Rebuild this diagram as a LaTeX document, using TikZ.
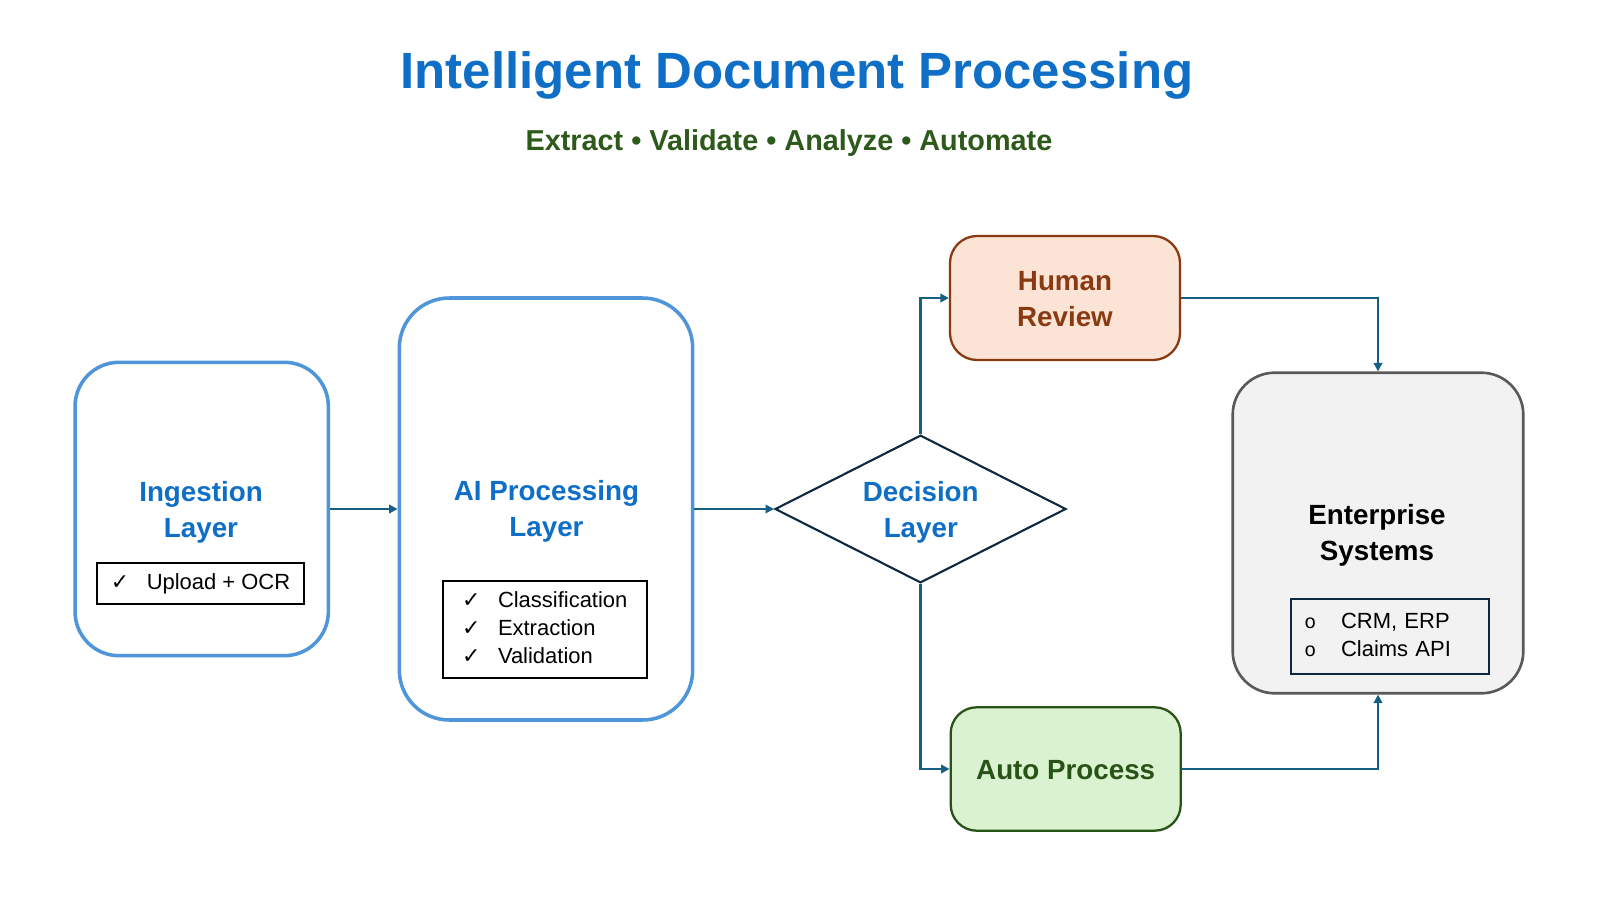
\documentclass[tikz,border=0pt]{standalone}
\usepackage{fontspec}
\setmainfont{Liberation Sans}
\newfontfamily\symfont{DejaVu Sans}
\newfontfamily\bulfont{Liberation Mono}
\usetikzlibrary{arrows.meta,shapes.geometric}
\definecolor{boxblue}{HTML}{4E95D9}
\definecolor{txtblue}{HTML}{0F6FC6}
\definecolor{subgreen}{HTML}{2D5A1B}
\definecolor{conncolor}{HTML}{156082}
\definecolor{navy}{HTML}{0E2841}
\definecolor{hrfill}{HTML}{FBE3D6}
\definecolor{hrline}{HTML}{8A3A12}
\definecolor{apfill}{HTML}{DAF2D0}
\definecolor{apline}{HTML}{275317}
\definecolor{entfill}{HTML}{F2F2F2}
\definecolor{entline}{HTML}{595959}
\newcommand\chkitem{\makebox[3.6mm][l]{\symfont ✓}}
\newcommand\ringitem{\makebox[3.67mm][l]{\bulfont\fontsize{5.6}{8}\selectfont o}}
\begin{document}
\begin{tikzpicture}[x=0.1mm,y=-0.1mm,
  layerbox/.style={draw=boxblue, line width=1pt, fill=white, rounded corners=4.4mm, inner sep=0pt},
  lbl/.style={font=\fontsize{7.9}{10.24}\selectfont\bfseries, align=center, inner sep=0pt},
  listbox/.style={draw=black, line width=0.6pt, inner sep=0pt, font=\fontsize{6.25}{8}\selectfont},
  conn/.style={draw=conncolor, line width=0.65pt, -{Triangle[length=2.4pt,width=2.4pt]}},
  rbox/.style={inner sep=0pt, rounded corners=2.7mm, line width=0.65pt, minimum width=23mm, minimum height=12.4mm}
]
\useasboundingbox (0,0) rectangle (1600,900);

% titles
\node[font=\fontsize{14.5}{17}\selectfont\bfseries, text=txtblue, anchor=base, inner sep=0pt] (title) at (797,89) {Intelligent Document Processing};
\node[font=\fontsize{8.2}{10}\selectfont\bfseries, text=subgreen, anchor=base, inner sep=0pt] (sub) at (789,151) {Extract • Validate • Analyze • Automate};

% ingestion
\node[layerbox, minimum width=25.33mm, minimum height=29.34mm] (ing) at (201.7,509) {};
\node[lbl, text=txtblue] (ingt) at (201,512.5) {\strut Ingestion\\\strut Layer};
\node[listbox, minimum width=20.7mm, minimum height=4.1mm] (ingl) at (200.5,583.5) {\strut\chkitem Upload + OCR};

% AI processing
\node[layerbox, rounded corners=5mm, minimum width=29.34mm, minimum height=42.2mm] (ai) at (546,509) {};
\node[lbl, text=txtblue] (ait) at (546.5,511.5) {\strut AI Processing\\\strut Layer};
\node[listbox, minimum width=20.4mm, minimum height=9.73mm, align=left] (ail) at (544.7,629.7) {\strut\chkitem Classification\\\strut\chkitem Extraction\\\strut\chkitem Validation};

% decision
\node[shape=diamond, aspect=2, draw=navy, line width=0.6pt, fill=white, inner sep=0pt, minimum width=29.1mm, minimum height=14.77mm] (dec) at (920.5,509) {};
\node[lbl, text=txtblue] (dect) at (920.8,512.3) {\strut Decision\\\strut Layer};

% human review & auto process
\node[rbox, draw=hrline, fill=hrfill] (hr) at (1065,298) {};
\node[lbl, text=hrline] (hrt) at (1065,301.2) {\strut Human\\\strut Review};
\node[rbox, draw=apline, fill=apfill, rounded corners=2.6mm, minimum height=12.34mm] (ap) at (1065.7,769) {};
\node[lbl, text=apline] (apt) at (1065.7,772) {\strut Auto Process};

% enterprise
\node[draw=entline, fill=entfill, line width=0.75pt, rounded corners=4.2mm, inner sep=0pt, minimum width=29.06mm, minimum height=32.06mm] (ent) at (1378,533) {};
\node[lbl, text=black] (entt) at (1377,535.3) {\strut Enterprise\\\strut Systems};
\node[listbox, draw=navy, minimum width=19.83mm, minimum height=7.5mm, text width=17.1mm, align=left, inner xsep=1.33mm] (entl) at (1389.85,636.5) {\strut\ringitem CRM, ERP\\\strut\ringitem Claims API};

% connectors
\draw[conn] (ing.east) -- (ai.west);
\draw[conn] (ai.east) -- (dec.west);
\draw[conn] (dec.north) |- (hr.west);
\draw[conn] (dec.south) |- (ap.west);
\draw[conn] (hr.east) -| (ent.north);
\draw[conn] (ap.east) -| (ent.south);
\end{tikzpicture}
\end{document}
